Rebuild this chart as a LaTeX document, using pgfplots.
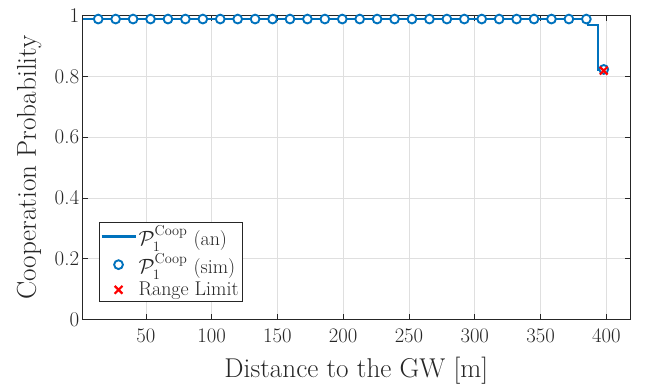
\documentclass[border=0pt]{standalone}
\usepackage{pgfplots}
\pgfplotsset{compat=1.18}
\usepackage{amsmath}
\definecolor{mblue}{rgb}{0,0.447,0.741}
\definecolor{axgray}{rgb}{0.15,0.15,0.15}
\definecolor{gridgray}{rgb}{0.875,0.875,0.875}
\pgfplotsset{
  lineleg/.style={legend image code/.code={\draw[##1] (0bp,0bp) -- (34bp,0bp);}},
  markleg/.style={legend image code/.code={\draw[mark repeat=1,mark phase=1,##1] plot coordinates {(17bp,0bp)};}},
}
\begin{document}
\begin{tikzpicture}
\begin{axis}[
  width=547.3bp, height=303.6bp, scale only axis,
  xmin=2, xmax=418, ymin=0, ymax=1,
  xtick={50,100,150,200,250,300,350,400},
  ytick={0,0.2,0.4,0.6,0.8,1},
  yticklabels={0,0.2,0.4,0.6,0.8,1},
  tick align=inside,
  major tick length=5.5bp,
  tick style={axgray, line width=0.7bp},
  axis line style={axgray, line width=0.8bp},
  grid=major,
  grid style={gridgray, line width=0.7bp},
  ticklabel style={font=\fontsize{21}{24}\selectfont, text=axgray},
  xticklabel style={yshift=-6bp},
  label style={font=\fontsize{27.3}{31}\selectfont, text=axgray},
  xlabel={Distance to the GW [m]},
  ylabel={Cooperation Probability},
  xlabel style={at={(axis description cs:0.5,-0.1917)}, anchor=base, inner sep=0pt},
  ylabel style={at={(axis description cs:-0.075,0.5)}, anchor=south, inner sep=0pt},
  legend style={at={(axis description cs:0.029,0.058)}, anchor=south west,
    draw=axgray, line width=0.7bp, fill=white,
    font=\fontsize{20}{23}\selectfont, text=axgray,
    inner xsep=1.5bp, inner ysep=2bp, row sep=3bp},
  legend cell align=left,
]
\addplot[mblue, line width=2.2bp, lineleg]
  coordinates {(2,0.989) (386,0.989) (386,0.969) (393.7,0.969) (393.7,0.823) (398,0.823)};
\addlegendentry{$\mathcal{P}_1^{\mathrm{Coop}}$ (an)}
\addplot[only marks, mark=*, mark size=4.4bp,
  mark options={draw=mblue, fill=white, line width=1.9bp}, markleg]
  coordinates {
  (13.8,0.989) (27.05,0.989) (40.3,0.989) (53.55,0.989) (66.8,0.989)
  (80.05,0.989) (93.3,0.989) (106.55,0.989) (119.8,0.989) (133.05,0.989)
  (146.3,0.989) (159.55,0.989) (172.8,0.989) (186.05,0.989) (199.3,0.989)
  (212.55,0.989) (225.8,0.989) (239.05,0.989) (252.3,0.989) (265.55,0.989)
  (278.8,0.989) (292.05,0.989) (305.3,0.989) (318.55,0.989) (331.8,0.989)
  (345.05,0.989) (358.3,0.989) (371.55,0.989) (384.8,0.989) (398.05,0.823)};
\addlegendentry{$\mathcal{P}_1^{\mathrm{Coop}}$ (sim)}
\addplot[only marks, mark=x, mark size=5.5bp,
  mark options={draw=red, line width=2.2bp}, markleg]
  coordinates {(398,0.819)};
\addlegendentry{Range Limit}
\coordinate (sw) at (rel axis cs:0,0);
\coordinate (ne) at (rel axis cs:1,1);
\end{axis}
\pgfresetboundingbox
\useasboundingbox ([shift={(-82.7bp,-64.7bp)}]sw) rectangle ([shift={(19bp,15.7bp)}]ne);
\end{tikzpicture}
\end{document}
